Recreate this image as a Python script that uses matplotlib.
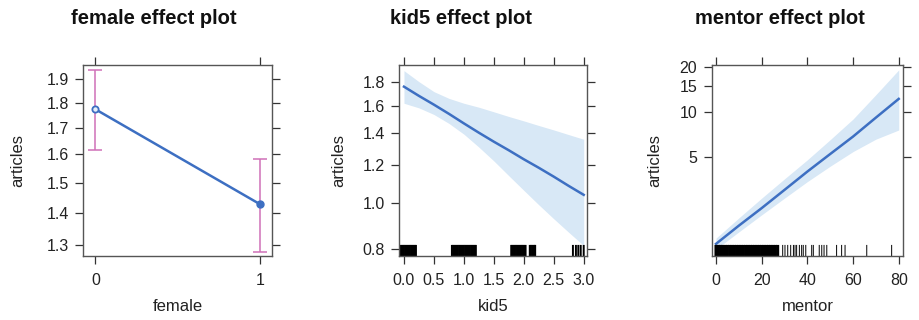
import matplotlib
matplotlib.use("Agg")
import matplotlib.pyplot as plt
from matplotlib.ticker import FixedLocator, NullLocator

plt.rcParams['font.family'] = ['Liberation Sans', 'DejaVu Sans']

# female: fitted articles with confidence limits
female_x = [0, 1]
female_fit = [1.774, 1.427]
female_lower = [1.615, 1.280]
female_upper = [1.940, 1.583]

# kid5: fitted curve and band
kid5_x = [0.0, 0.25, 0.5, 0.75, 1.0, 1.25, 1.5, 1.75, 2.0, 2.25, 2.5, 2.75, 3.0]
kid5_fit = [1.757, 1.68, 1.61, 1.54, 1.47, 1.405, 1.345, 1.29, 1.235, 1.185, 1.135, 1.085, 1.039]
kid5_lower = [1.621, 1.585, 1.535, 1.47, 1.395, 1.31, 1.225, 1.14, 1.062, 0.99, 0.925, 0.866, 0.812]
kid5_upper = [1.899, 1.80, 1.715, 1.66, 1.621, 1.59, 1.555, 1.52, 1.488, 1.455, 1.424, 1.392, 1.361]
kid5_rug = [-0.06, -0.04, -0.02, 0.00, 0.02, 0.04, 0.06, 0.08, 0.10, 0.12, 0.14, 0.16, 0.18, 0.20,
            0.80, 0.82, 0.84, 0.86, 0.88, 0.90, 0.92, 0.94, 0.96, 0.98, 1.00, 1.02, 1.04,
            1.06, 1.08, 1.10, 1.12, 1.14, 1.16, 1.18, 1.20,
            1.79, 1.81, 1.83, 1.85, 1.87, 1.89, 1.91, 1.93, 1.95, 1.97, 1.99, 2.01, 2.03,
            2.10, 2.12, 2.14, 2.16, 2.18, 2.19,
            2.82, 2.87, 2.91, 2.95, 3.00]

# mentor: fitted curve and band
mentor_x = [0, 10, 20, 30, 40, 50, 60, 70, 80]
mentor_fit = [1.314, 1.74, 2.28, 3.02, 4.005, 5.25, 6.87, 9.2, 12.28]
mentor_lower = [1.211, 1.58, 2.055, 2.66, 3.43, 4.35, 5.45, 6.6, 7.6]
mentor_upper = [1.435, 1.96, 2.66, 3.58, 4.80, 6.55, 9.0, 13.1, 19.2]
mentor_rug_dense = list(range(0, 28))
mentor_rug_sparse = [29.2, 30.2, 31.4, 32.7, 33.9, 34.6, 35.3, 36.5, 37.5, 38.2, 39.3,
                     41.9, 42.6, 45.2, 46.3, 47.3, 48.5, 52.8, 55.0, 56.5, 66.0, 76.9]

line_col = '#3d6fc2'
band_col = '#d8e8f6'
err_col = '#d070b8'
W, H = 920, 320

fig = plt.figure(figsize=(9.2, 3.2), dpi=100)


def make_axes(x0, x1, y0=65, y1=256):
    ax = fig.add_axes([x0 / W, 1 - y1 / H, (x1 - x0) / W, (y1 - y0) / H])
    for s in ax.spines.values():
        s.set_color('#555555')
        s.set_linewidth(1.0)
    ax.tick_params(direction='out', length=5.5, width=0.9, color='#333333',
                   top=True, right=True, labelsize=11.5, labelcolor='#222222', pad=5)
    ax.tick_params(axis='x', pad=7)
    ax.set_yscale('log')
    ax.yaxis.set_minor_locator(NullLocator())
    return ax


def style_labels(ax, xlabel, ylab_x):
    ax.set_xlabel(xlabel, fontsize=12, color='#222222', va='center')
    ax.set_ylabel('articles', fontsize=12, color='#222222', va='center')
    ax.xaxis.set_label_coords(0.5, -0.267)
    ax.yaxis.set_label_coords(ylab_x, 0.5)


def rug(ax, vals, lw):
    ax.vlines(vals, 0, 0.058, transform=ax.get_xaxis_transform(),
              color='black', lw=lw, snap=False)


# female panel
ax1 = make_axes(83.3, 272.3)
ax1.errorbar(female_x, female_fit,
             yerr=[[f - l for f, l in zip(female_fit, female_lower)],
                   [u - f for f, u in zip(female_fit, female_upper)]],
             fmt='none', ecolor=err_col, elinewidth=1.1, capsize=5, capthick=1.1)
ax1.plot(female_x, female_fit, color=line_col, lw=1.8)
ax1.plot(female_x[:1], female_fit[:1], 'o', ms=4.5, mfc='#e6eef8', mec=line_col, mew=1.3)
ax1.plot(female_x[1:], female_fit[1:], 'o', ms=5, color=line_col)
ax1.set_xlim(-0.073, 1.073)
ax1.set_ylim(1.268, 1.963)
ax1.xaxis.set_major_locator(FixedLocator([0, 1]))
ax1.yaxis.set_major_locator(FixedLocator([1.3, 1.4, 1.5, 1.6, 1.7, 1.8, 1.9]))
ax1.set_yticklabels(['1.3', '1.4', '1.5', '1.6', '1.7', '1.8', '1.9'])
style_labels(ax1, 'female', -0.349)

# kid5 panel
ax2 = make_axes(399.3, 587.3)
ax2.fill_between(kid5_x, kid5_lower, kid5_upper, color=band_col, lw=0)
ax2.plot(kid5_x, kid5_fit, color=line_col, lw=1.8)
rug(ax2, kid5_rug, 1.4)
ax2.set_xlim(-0.078, 3.06)
ax2.set_ylim(0.772, 1.952)
ax2.xaxis.set_major_locator(FixedLocator([0, 0.5, 1, 1.5, 2, 2.5, 3]))
ax2.set_xticklabels(['0.0', '0.5', '1.0', '1.5', '2.0', '2.5', '3.0'])
ax2.yaxis.set_major_locator(FixedLocator([0.8, 1.0, 1.2, 1.4, 1.6, 1.8]))
ax2.set_yticklabels(['0.8', '1.0', '1.2', '1.4', '1.6', '1.8'])
style_labels(ax2, 'kid5', -0.324)

# mentor panel
ax3 = make_axes(711.7, 903.3)
ax3.fill_between(mentor_x, mentor_lower, mentor_upper, color=band_col, lw=0)
ax3.plot(mentor_x, mentor_fit, color=line_col, lw=1.8)
rug(ax3, mentor_rug_dense, 2.2)
rug(ax3, mentor_rug_sparse, 0.7)
ax3.set_xlim(-1.88, 82.0)
ax3.set_ylim(1.09, 20.7)
ax3.xaxis.set_major_locator(FixedLocator([0, 20, 40, 60, 80]))
ax3.yaxis.set_major_locator(FixedLocator([5, 10, 15, 20]))
ax3.set_yticklabels(['5', '10', '15', '20'])
style_labels(ax3, 'mentor', -0.297)

for xc, title in [(154, 'female effect plot'), (461, 'kid5 effect plot'), (780, 'mentor effect plot')]:
    fig.text(xc / W, 1 - 23.5 / H, title, ha='center', va='baseline',
             fontsize=14.5, fontweight='bold', color='#111111')

fig.savefig('out.png', dpi=100)
